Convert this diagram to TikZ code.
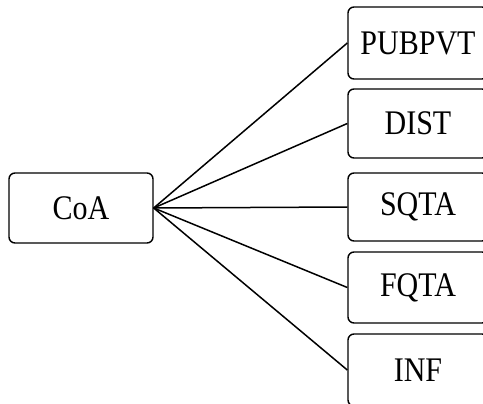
\documentclass[tikz,border=0pt]{standalone}
\usepackage{fontspec}
\setmainfont{Liberation Serif}
\newcommand{\boxlabel}[1]{\scalebox{1}[1.15]{#1}}
\begin{document}
\begin{tikzpicture}[x=1pt,y=-1pt,
  catbox/.style={draw=black, line width=1.4pt, rounded corners=6pt,
    inner sep=0pt, font=\fontsize{30}{36}\selectfont},
  link/.style={draw=black, line width=1.5pt}]
  \useasboundingbox (0,0) rectangle (483,404);
  \clip (0,0) rectangle (483,404);
  % root category
  \node[catbox, minimum width=144pt, minimum height=70pt] (coa) at (81,208) {\boxlabel{CoA}};
  % sub-categories
  \node[catbox, minimum width=140pt, minimum height=72pt] (pub) at (418,43) {\boxlabel{PUBPVT}};
  \node[catbox, minimum width=140pt, minimum height=69pt] (dist) at (418,123.5) {\boxlabel{DIST}};
  \node[catbox, minimum width=140pt, minimum height=68pt] (sqta) at (418,207) {\boxlabel{SQTA}};
  \node[catbox, minimum width=140pt, minimum height=71pt] (fqta) at (418,287.5) {\boxlabel{FQTA}};
  \node[catbox, minimum width=140pt, minimum height=72pt] (inf) at (418,370) {\boxlabel{INF}};
  % connectors
  \foreach \t in {pub,dist,sqta,fqta,inf}
    \draw[link] (coa.east) -- (\t.west);
\end{tikzpicture}
\end{document}
